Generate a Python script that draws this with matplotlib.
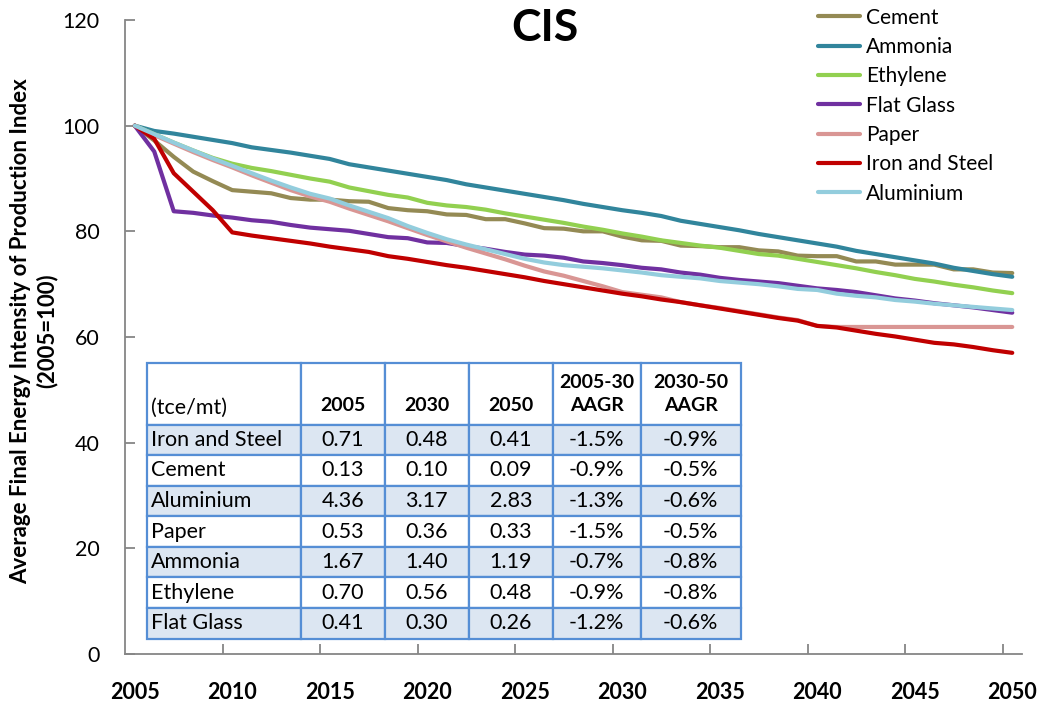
import numpy as np
import matplotlib
matplotlib.use("Agg")
import matplotlib.pyplot as plt

plt.rcParams['font.family'] = ['Lato', 'DejaVu Sans']

# data (index, 2005=100)
years = list(range(2005, 2051))

cement = [100, 97.2, 94.1, 91.3, 89.5, 87.8, 87.5, 87.2, 86.3, 86.0,
          86.0, 85.7, 85.6, 84.4, 84.0, 83.8, 83.2, 83.1, 82.3, 82.3,
          81.5, 80.6, 80.5, 80.0, 80.0, 79.0, 78.3, 78.2, 77.3, 77.2,
          77.0, 77.0, 76.4, 76.2, 75.4, 75.3, 75.3, 74.3, 74.3, 73.7,
          73.7, 73.7, 72.8, 72.8, 72.2, 72.1]
ammonia = [100, 99.0, 98.5, 97.9, 97.3, 96.7, 95.9, 95.4, 94.9, 94.3,
           93.7, 92.7, 92.1, 91.5, 90.9, 90.3, 89.7, 88.9, 88.3, 87.7,
           87.1, 86.5, 85.9, 85.2, 84.6, 84.0, 83.5, 82.9, 82.0, 81.4,
           80.8, 80.2, 79.5, 78.9, 78.3, 77.7, 77.1, 76.3, 75.7, 75.1,
           74.5, 73.9, 73.1, 72.5, 71.9, 71.4]
ethylene = [100, 98.4, 96.8, 95.3, 93.9, 92.8, 92.0, 91.4, 90.7, 90.0,
            89.4, 88.3, 87.6, 86.9, 86.4, 85.4, 84.9, 84.6, 84.1, 83.4,
            82.8, 82.2, 81.6, 80.9, 80.3, 79.6, 79.0, 78.3, 77.8, 77.3,
            76.9, 76.3, 75.7, 75.4, 74.8, 74.2, 73.6, 73.0, 72.3, 71.7,
            71.0, 70.5, 69.9, 69.4, 68.8, 68.3]
flat_glass = [100, 95.1, 83.8, 83.5, 83.0, 82.6, 82.1, 81.8, 81.2, 80.7,
              80.4, 80.1, 79.5, 78.9, 78.7, 77.9, 77.8, 77.2, 76.7, 76.1,
              75.6, 75.4, 75.0, 74.3, 74.0, 73.6, 73.1, 72.8, 72.2, 71.8,
              71.2, 70.8, 70.5, 70.2, 69.7, 69.2, 68.9, 68.5, 67.9, 67.3,
              66.9, 66.4, 66.0, 65.6, 65.1, 64.6]
paper = [100, 98.2, 96.6, 95.0, 93.5, 92.1, 90.6, 89.2, 87.8, 86.6,
         85.6, 84.3, 83.1, 81.9, 80.6, 79.3, 78.1, 76.9, 75.8, 74.7,
         73.5, 72.4, 71.6, 70.6, 69.6, 68.5, 68.0, 67.5, 66.6, 66.0,
         65.5, 64.9, 64.3, 63.7, 63.2, 62.1, 61.9, 61.9, 61.9, 61.9,
         61.9, 61.9, 61.9, 61.9, 61.9, 61.9]
iron_steel = [100, 97.5, 91.0, 87.5, 84.0, 79.8, 79.2, 78.7, 78.2, 77.7,
              77.1, 76.6, 76.1, 75.3, 74.8, 74.2, 73.6, 73.1, 72.5, 71.9,
              71.3, 70.6, 70.0, 69.4, 68.8, 68.2, 67.7, 67.1, 66.6, 66.0,
              65.4, 64.8, 64.2, 63.6, 63.1, 62.1, 61.8, 61.2, 60.6, 60.1,
              59.5, 58.9, 58.6, 58.1, 57.5, 57.0]
aluminium = [100, 98.4, 96.8, 95.3, 93.8, 92.4, 91.0, 89.6, 88.3, 87.1,
             86.2, 84.9, 83.7, 82.5, 81.0, 79.7, 78.5, 77.5, 76.6, 75.7,
             74.8, 74.1, 73.6, 73.3, 73.0, 72.6, 72.2, 71.7, 71.4, 71.1,
             70.6, 70.3, 70.0, 69.6, 69.1, 68.9, 68.2, 67.8, 67.5, 67.0,
             66.7, 66.3, 66.0, 65.7, 65.4, 65.1]

series = [('Cement', cement, '#948A54'),
          ('Ammonia', ammonia, '#31859C'),
          ('Ethylene', ethylene, '#92D050'),
          ('Flat Glass', flat_glass, '#7030A0'),
          ('Paper', paper, '#D99694'),
          ('Iron and Steel', iron_steel, '#C00000'),
          ('Aluminium', aluminium, '#93CDDD')]

# table values
tbl_cols = ['\n(tce/mt)', '\n2005', '\n2030', '\n2050', '2005-30\nAAGR', '2030-50\nAAGR']
tbl_rows = ['Iron and Steel', 'Cement', 'Aluminium', 'Paper', 'Ammonia', 'Ethylene', 'Flat Glass']
tbl_2005 = ['0.71', '0.13', '4.36', '0.53', '1.67', '0.70', '0.41']
tbl_2030 = ['0.48', '0.10', '3.17', '0.36', '1.40', '0.56', '0.30']
tbl_2050 = ['0.41', '0.09', '2.83', '0.33', '1.19', '0.48', '0.26']
tbl_aagr1 = ['-1.5%', '-0.9%', '-1.3%', '-1.5%', '-0.7%', '-0.9%', '-1.2%']
tbl_aagr2 = ['-0.9%', '-0.5%', '-0.6%', '-0.5%', '-0.8%', '-0.8%', '-0.6%']

W, H = 1039, 709
fig = plt.figure(figsize=(W / 100, H / 100), dpi=100)
ax = fig.add_axes([125 / W, (H - 654) / H, 897 / W, 634 / H])

for name, vals, col in series:
    ax.plot(years, vals, color=col, lw=3, label=name, solid_capstyle='round')

ax.set_xlim(2004.5, 2050.5)
ax.set_ylim(0, 120)
ax.set_yticks(range(0, 121, 20))

# tick marks between categories, labels on every 5th year
ax.set_xticks(np.arange(2009.5, 2050, 5))
ax.set_xticklabels([])
ax.set_xticks(range(2005, 2051, 5), minor=True)
ax.set_xticklabels([str(y) for y in range(2005, 2051, 5)], minor=True,
                   fontweight='bold', fontsize=15.5)
ax.tick_params(axis='x', which='major', direction='in', length=7, width=1.3, color='#868686')
ax.tick_params(axis='x', which='minor', length=0, pad=20)
ax.tick_params(axis='y', direction='in', length=7, width=1.3, color='#868686',
               labelsize=15.5, pad=18.5)

for s in ['top', 'right']:
    ax.spines[s].set_visible(False)
for s in ['left', 'bottom']:
    ax.spines[s].set_color('#868686')
    ax.spines[s].set_linewidth(1.3)

fig.text(34 / W, 1 - 331 / H,
         'Average Final Energy Intensity of Production Index\n(2005=100)',
         rotation=90, ha='center', va='center', fontsize=16, fontweight='bold',
         multialignment='center', linespacing=1.25)

fig.text(545 / W, 1 - 28 / H, 'CIS', ha='center', va='center',
         fontsize=32, fontweight='bold')

ax.legend(loc='upper left', bbox_to_anchor=(818 / W, 1 - 7.5 / H),
          bbox_transform=fig.transFigure, frameon=False, fontsize=15,
          borderpad=0, borderaxespad=0, handlelength=2.0, handletextpad=0.3,
          labelspacing=0.45)

# table inside the plot area; bbox covers the numeric columns, row labels sit left of it
cell_text = [list(r) for r in zip(tbl_2005, tbl_2030, tbl_2050, tbl_aagr1, tbl_aagr2)]
col_w = [84, 84, 84, 88, 100]
tab = ax.table(cellText=cell_text, colLabels=tbl_cols[1:], rowLabels=tbl_rows,
               rowLoc='left', cellLoc='center', colWidths=[c / 1000 for c in col_w],
               bbox=[(285 - 125) / 897, (654 - 638.5) / 634,
                     (741 - 301) / 897, (638.5 - 363.5) / 634])
tab.auto_set_font_size(False)
tab.set_fontsize(15.5)

row_h = tab[1, 0].get_height()
tab.add_cell(0, -1, width=154 / 1000, height=2 * row_h, text=tbl_cols[0], loc='left')
for c in range(len(col_w)):
    tab[0, c].set_height(2 * row_h)

for (r, c), cell in tab.get_celld().items():
    cell.set_edgecolor('#558ED5')
    cell.set_linewidth(1.6)
    cell.get_text().set_fontsize(15.5)
    if c == -1:
        cell.set_width(154 / 1000)
        cell.PAD = 0.025
    if r == 0:
        cell.set_facecolor('white')
        cell.get_text().set_linespacing(1.45)
        if c >= 0:
            cell.get_text().set_fontweight('bold')
            cell.get_text().set_fontsize(14)
    elif r % 2 == 1:
        cell.set_facecolor('#DCE6F2')
    else:
        cell.set_facecolor('white')

fig.savefig('out.png', dpi=100)
